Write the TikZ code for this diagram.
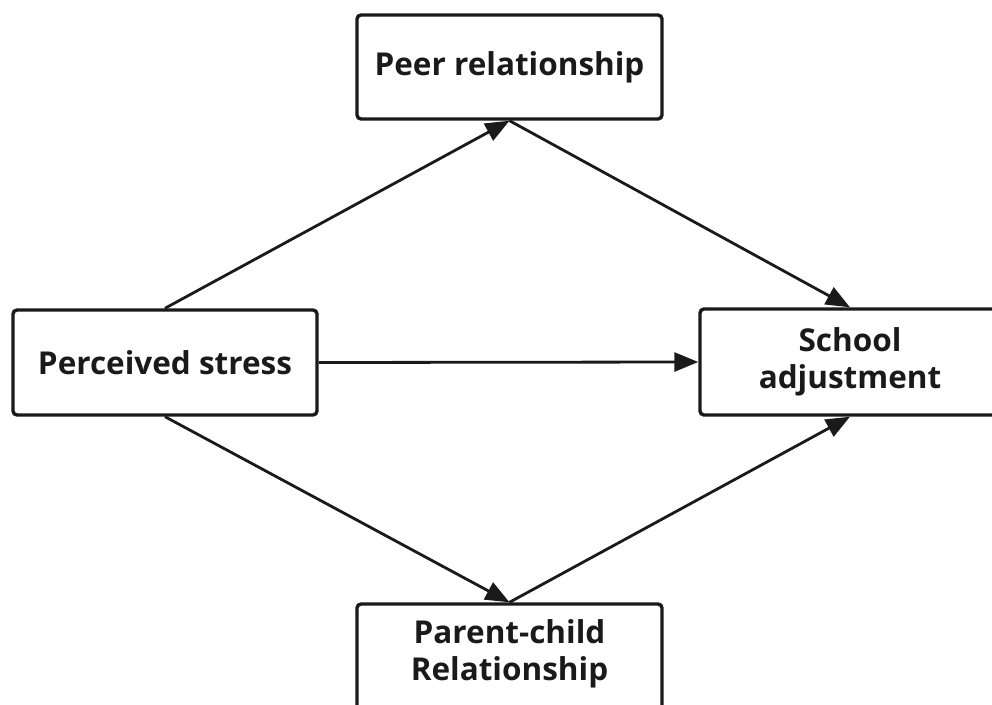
\documentclass[tikz,border=0pt]{standalone}
\usepackage{fontspec}
\setmainfont{Open Sans}[BoldFont={* Bold}]
\usetikzlibrary{arrows.meta}
\definecolor{ink}{HTML}{1A1A1A}
\begin{document}
\begin{tikzpicture}[x=1pt,y=1pt,
  lbl/.style={align=center, font=\fontsize{31.5}{37}\selectfont\bfseries, text=ink, inner sep=0pt},
  box/.style={draw=ink, line width=3.4pt, rounded corners=4pt, fill=white, lbl},
  conn/.style={draw=ink, line width=2.8pt, -{Triangle[length=24pt,width=19pt]}}]
\useasboundingbox (0,0) rectangle (992,704);
\clip (0,0) rectangle (992,704);
\node[box, minimum width=305pt, minimum height=104pt] (peer) at (509.5,637) {Peer relationship};
\node[box, minimum width=304pt, minimum height=105pt] (ps) at (165,341.5) {Perceived stress};
\node[box, minimum width=300pt, minimum height=106pt] (sa) at (850,342) {School\\adjustment};
\node[box, minimum width=305pt, minimum height=106pt] (pc) at (509.5,47) {};
\node[lbl] (pct) at (509.5,50) {Parent-child\\Relationship};
\draw[conn] (ps.north) -- (peer.south);
\draw[conn] (peer.south) -- (sa.north);
\draw[conn] (ps.east) -- (sa.west);
\draw[conn] (ps.south) -- (pc.north);
\draw[conn] (pc.north) -- (sa.south);
\end{tikzpicture}
\end{document}
